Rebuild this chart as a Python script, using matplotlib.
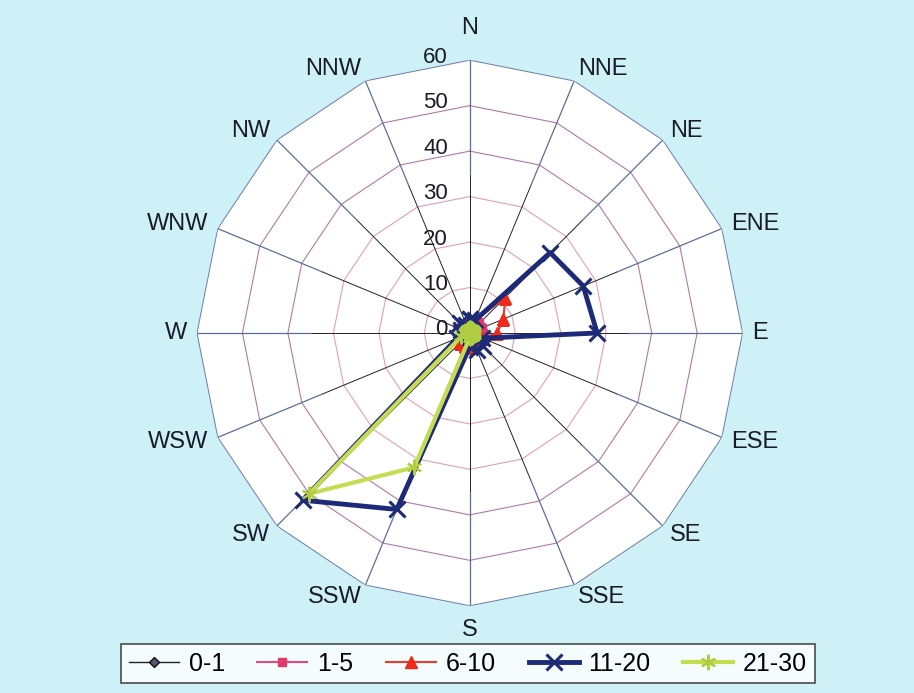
import matplotlib.pyplot as plt
import numpy as np

plt.rcParams['font.family'] = ['Liberation Sans', 'DejaVu Sans']

directions = ['N', 'NNE', 'NE', 'ENE', 'E', 'ESE', 'SE', 'SSE',
              'S', 'SSW', 'SW', 'WSW', 'W', 'WNW', 'NW', 'NNW']
r_ticks = [0, 10, 20, 30, 40, 50, 60]

# frequency per wind direction for each speed class
s0_1 = [1, 1, 1, 1, 1, 1, 1, 1, 1, 1, 1, 1, 1, 1, 1, 1]
s1_5 = [2, 2, 3, 3, 3, 2, 2, 2, 2, 2, 3, 2, 2, 2, 2, 2]
s6_10 = [2, 3, 11, 8, 6, 3, 2, 2, 3, 3, 3, 2, 2, 2, 1, 1]
s11_20 = [3, 3, 25, 27, 28, 3, 4, 4, 3, 42, 52, 3, 2, 2, 3, 2]
s21_30 = [1, 1, 1, 1, 1, 1, 1, 1, 1, 32, 50, 2, 1, 1, 1, 1]

series = [
    ('0-1', s0_1, dict(color='#222222', lw=1.0, marker='D', ms=5, mfc='#555577', mec='#111111')),
    ('1-5', s1_5, dict(color='#e8487a', lw=1.5, marker='s', ms=6, mfc='#e03a6a', mec='#e03a6a')),
    ('6-10', s6_10, dict(color='#ee3a2a', lw=1.5, marker='^', ms=8, mfc='#ee2a1a', mec='#ee2a1a')),
    ('11-20', s11_20, dict(color='#1c2a78', lw=3.5, marker='x', ms=12, mew=2.2, mec='#1c2a78')),
    ('21-30', s21_30, dict(color='#c4dc50', lw=3.0, marker=(6, 2, 0), ms=11, mew=1.5, mec='#b0cc40')),
]

theta = np.radians(np.arange(len(directions)) * 22.5)
theta_c = np.append(theta, theta[0])

fig = plt.figure(figsize=(9.14, 6.93), dpi=100)
fig.patch.set_facecolor('#cdf1f6')
ax = fig.add_axes([0.2155, 0.1255, 0.597, 0.788], projection='polar')
ax.set_theta_zero_location('N')
ax.set_theta_direction(-1)
ax.set_ylim(0, 60)
ax.patch.set_visible(False)
ax.spines['polar'].set_visible(False)
ax.grid(False)
ax.set_xticks([])
ax.set_yticks([])

# white plot area bounded by the outer polygon
ax.fill(theta_c, np.full(len(theta_c), 60), color='white', zorder=0)

# polygon grid rings
for r in r_ticks[1:]:
    col = '#6f86b0' if r == 60 else ('#b07aa8' if r >= 40 else '#e0a0b8')
    ax.plot(theta_c, np.full(len(theta_c), r), color=col, lw=0.8, zorder=1)

# spokes
for t in theta:
    ax.plot([t, t], [0, 35], color='#222222', lw=0.7, zorder=1)
    ax.plot([t, t], [35, 60], color='#5a6f98', lw=0.9, zorder=1)

for name, vals, style in series:
    v = np.append(vals, vals[0])
    ax.plot(theta_c, v, label=name, zorder=3, **style)

# category labels just outside the spoke ends
for t, d in zip(theta, directions):
    s, c = np.sin(t), np.cos(t)
    ha = 'left' if s > 0.05 else ('right' if s < -0.05 else 'center')
    dx, dy = s * 10, c * 13
    if abs(c) > 0.99:
        dy = 32 if c > 0 else -24
    ax.annotate(d, xy=(t, 60), xytext=(dx, dy), textcoords='offset pixels',
                ha=ha, va='center', fontsize=17, color='#1a1a28', annotation_clip=False)

for r in r_ticks:
    ax.annotate(str(r), xy=(0, r), xytext=(-22, 3), textcoords='offset pixels',
                ha='right', va='center', fontsize=16, color='#1a1a28')

leg = fig.legend(loc='lower center', bbox_to_anchor=(0.512, -0.004), ncol=5, fontsize=18,
                 frameon=True, fancybox=False, edgecolor='#222222', handlelength=2.0,
                 columnspacing=1.3, handletextpad=0.4, borderpad=0.3)
leg.get_frame().set_linewidth(1.2)

fig.savefig('out.png', dpi=100, facecolor=fig.get_facecolor())
